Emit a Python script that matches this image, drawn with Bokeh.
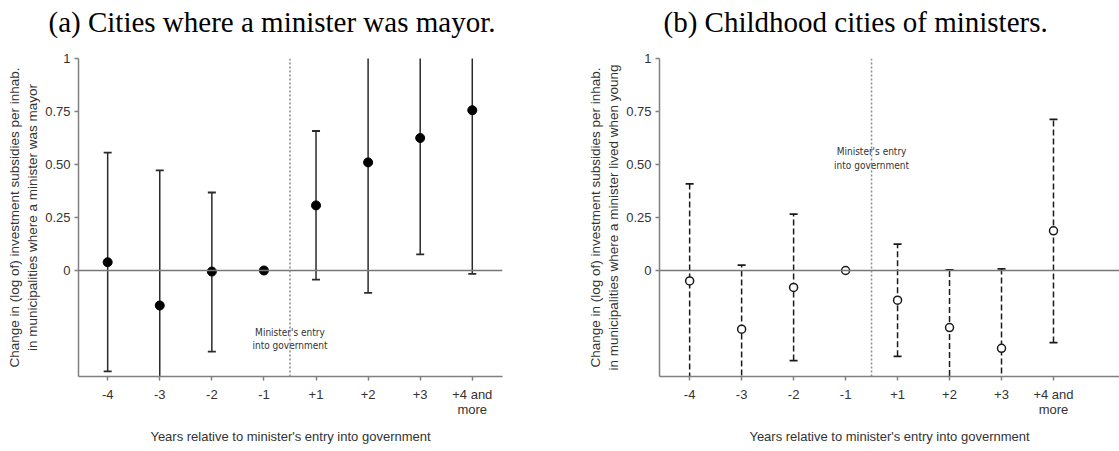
from bokeh.plotting import figure
from bokeh.layouts import row
from bokeh.models import Span, FixedTicker, Range1d, Title
from bokeh.core.properties import value
from bokeh.embed import file_html
from bokeh.resources import INLINE

nan = float("nan")

# ---- data ----
positions = [1, 2, 3, 4, 5, 6, 7, 8]
tick_labels = ["-4", "-3", "-2", "-1", "+1", "+2", "+3", "+4 and\nmore"]

a_est = [0.039, -0.165, -0.005, 0.0, 0.307, 0.510, 0.625, 0.756]
a_lo = [-0.476, -0.80, -0.383, nan, -0.043, -0.106, 0.076, -0.016]
a_hi = [0.556, 0.472, 0.368, nan, 0.658, 1.126, 1.174, 1.528]

b_est = [-0.049, -0.277, -0.080, 0.0, -0.140, -0.269, -0.367, 0.187]
b_lo = [-0.51, -0.58, -0.425, nan, -0.405, -0.54, -0.74, -0.340]
b_hi = [0.409, 0.025, 0.266, nan, 0.124, 0.003, 0.008, 0.713]

y_ticks = [0, 0.25, 0.5, 0.75, 1]
y_tick_labels = ["0", "0.25", "0.50", "0.75", "1"]

title_a = "(a) Cities where a minister was mayor."
title_b = "(b) Childhood cities of ministers."
ylab_a = "Change in (log of) investment subsidies per inhab.\nin municipalities where a minister was mayor"
ylab_b = "Change in (log of) investment subsidies per inhab.\nin municipalities where a minister lived when young"
xlab = "Years relative to minister's entry into government"
entry_text = "Minister's entry\ninto government"
entry_pos = 4.5

SANS = "Liberation Sans"
AXC = "#808080"
TXT = "#333333"


def make(width, left, right, xr, title, title_off, ylab, est, lo, hi, filled, txt_y):
    p = figure(width=width, height=451, output_backend="svg", toolbar_location=None,
               x_range=Range1d(*xr), y_range=Range1d(-0.5, 1.0),
               min_border_left=left, min_border_right=right,
               min_border_top=58, min_border_bottom=75)
    p.outline_line_color = None
    p.xgrid.visible = False
    p.ygrid.visible = False

    # blank spacer between the frame and the panel title
    p.add_layout(Title(text=" ", text_font_size="4px", standoff=12,
                       text_line_height=1.0), "above")

    p.title.text = title
    p.title.align = "left"
    p.title.offset = title_off
    p.title.standoff = 4
    p.title.text_line_height = 1.0
    p.title.text_font = "Liberation Serif"
    p.title.text_font_size = "29px"
    p.title.text_font_style = "normal"
    p.title.text_color = "#000000"

    for ax in (p.xaxis[0], p.yaxis[0]):
        ax.axis_line_color = AXC
        ax.axis_line_width = 1.5
        ax.major_tick_line_color = AXC
        ax.major_tick_line_width = 1.5
        ax.major_tick_in = 0
        ax.major_tick_out = 4
        ax.minor_tick_line_color = None
        ax.major_label_text_font = SANS
        ax.major_label_text_font_size = "13px"
        ax.major_label_text_color = TXT
        ax.axis_label_text_font = SANS
        ax.axis_label_text_font_style = "normal"
        ax.axis_label_text_color = TXT

    p.xaxis.ticker = FixedTicker(ticks=positions)
    p.xaxis.major_label_overrides = {k: v for k, v in zip(positions, tick_labels)}
    p.xaxis.major_label_standoff = 6
    p.xaxis.major_label_text_line_height = 1.05
    p.xaxis.axis_label = xlab
    p.xaxis.axis_label_text_font_size = "13px"
    p.xaxis.axis_label_standoff = 9

    p.yaxis.ticker = FixedTicker(ticks=y_ticks)
    p.yaxis.major_label_overrides = {k: v for k, v in zip(y_ticks, y_tick_labels)}
    p.yaxis.major_label_standoff = 4
    p.yaxis.axis_label = ylab
    p.yaxis.axis_label_text_font_size = "13.5px"
    p.yaxis.axis_label_standoff = 2

    p.add_layout(Span(location=0, dimension="width", line_color="#777777", line_width=1.5))
    p.add_layout(Span(location=entry_pos, dimension="height", line_color="#8a8a8a",
                      line_width=1.5, line_dash="2 2"))

    p.text(x=[entry_pos], y=[txt_y], text=[entry_text], text_align="center",
           text_baseline="top",
           text_font=value("Liberation Sans Narrow, DejaVu Sans Condensed, Liberation Sans"),
           text_font_size="10px", text_color=TXT, text_line_height=1.2)

    dash = "solid" if filled else "6 3"
    col = "#2a2a2a" if filled else "#1a1a1a"
    p.segment(x0=positions, y0=lo, x1=positions, y1=hi, line_color=col,
              line_width=1.5, line_dash=dash)
    p.scatter(x=positions, y=lo, marker="dash", size=8, line_color=col, line_width=1.8)
    p.scatter(x=positions, y=hi, marker="dash", size=8, line_color=col, line_width=1.8)
    if filled:
        p.scatter(x=positions, y=est, size=9, fill_color="#000000", line_color="#000000")
    else:
        p.scatter(x=positions, y=est, size=8, fill_color="#ffffff", line_color="#1a1a1a",
                  line_width=1.5)
    return p


pa = make(560, 78, 58, (0.44, 8.58), title_a, -30, ylab_a, a_est, a_lo, a_hi, True, -0.265)
pb = make(559, 99, 0, (0.42, 9.27), title_b, 4, ylab_b, b_est, b_lo, b_hi, False, 0.585)

layout = row(pa, pb)
open("out.html", "w").write(file_html(layout, INLINE))
